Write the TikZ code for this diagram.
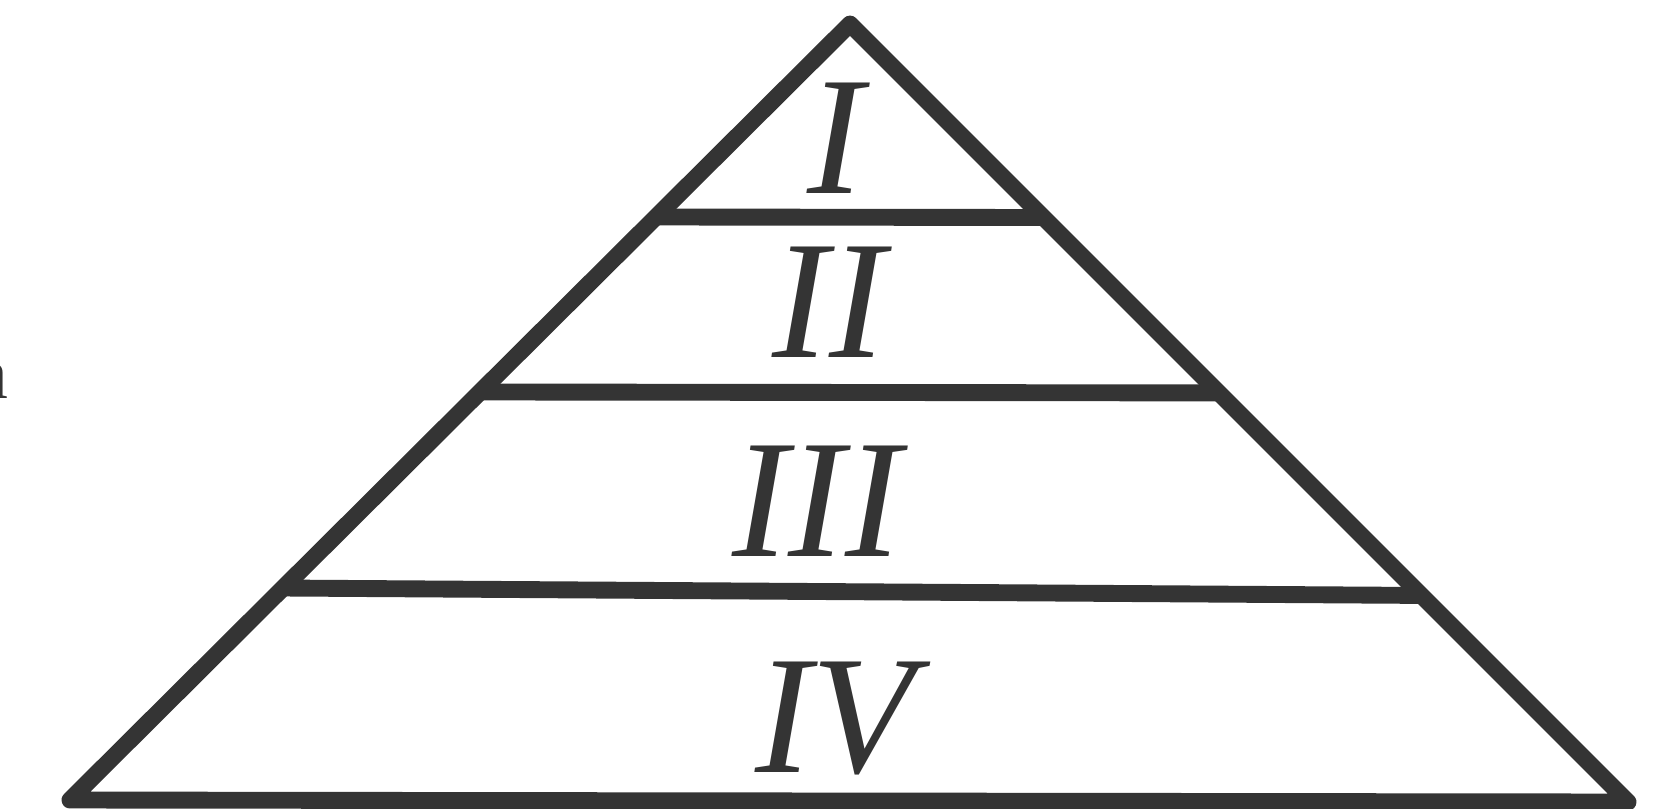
\documentclass[tikz,border=0pt]{standalone}
\usepackage{fontspec}
\setmainfont{Liberation Serif}
\usetikzlibrary{calc}
\definecolor{ink}{RGB}{52,52,52}
\tikzset{
  edge/.style={draw=ink, line width=4.8pt, line join=round},
  bar/.style={draw=ink, line width=4.8pt, line cap=butt},
  numeral/.style={text=ink, inner sep=0pt, anchor=base, font=\fontsize{48}{50}\selectfont\itshape},
  edgeletter/.style={text=ink, inner sep=0pt, anchor=base east, font=\fontsize{21}{24}\selectfont}
}
\begin{document}
\begin{tikzpicture}[x=0.01cm, y=-0.01cm]
\useasboundingbox (0,0) rectangle (1653,808);
\clip (0,0) rectangle (1653,808);
\fill[white] (0,0) rectangle (1653,808);
% vertices
\coordinate (A) at (850,24);
\coordinate (L) at (70,800);
\coordinate (R) at (1628,802);
% outer triangle
\draw[edge] (L) -- (A) -- (R) -- cycle;
% layer boundaries
\coordinate (l1) at ($(A)!0.2487!(L)$);
\coordinate (r1) at ($(A)!0.2487!(R)$);
\coordinate (l2) at ($(A)!0.4742!(L)$);
\coordinate (r2) at ($(A)!0.4742!(R)$);
\coordinate (l3) at ($(A)!0.7268!(L)$);
\coordinate (r3) at ($(A)!0.7345!(R)$);
\draw[bar] (l1) -- (r1);
\draw[bar] (l2) -- (r2);
\draw[bar] (l3) -- (r3);
% labels
\node[numeral] (n1) at (836,193) {I};
\node[numeral] (n2) at (829,357) {II};
\node[numeral] (n3) at (817,556) {III};
\node[numeral] (n4) at (835,772) {IV};
% cropped letter at the left edge
\node[edgeletter] (a) at (9,398) {a};
\end{tikzpicture}
\end{document}
